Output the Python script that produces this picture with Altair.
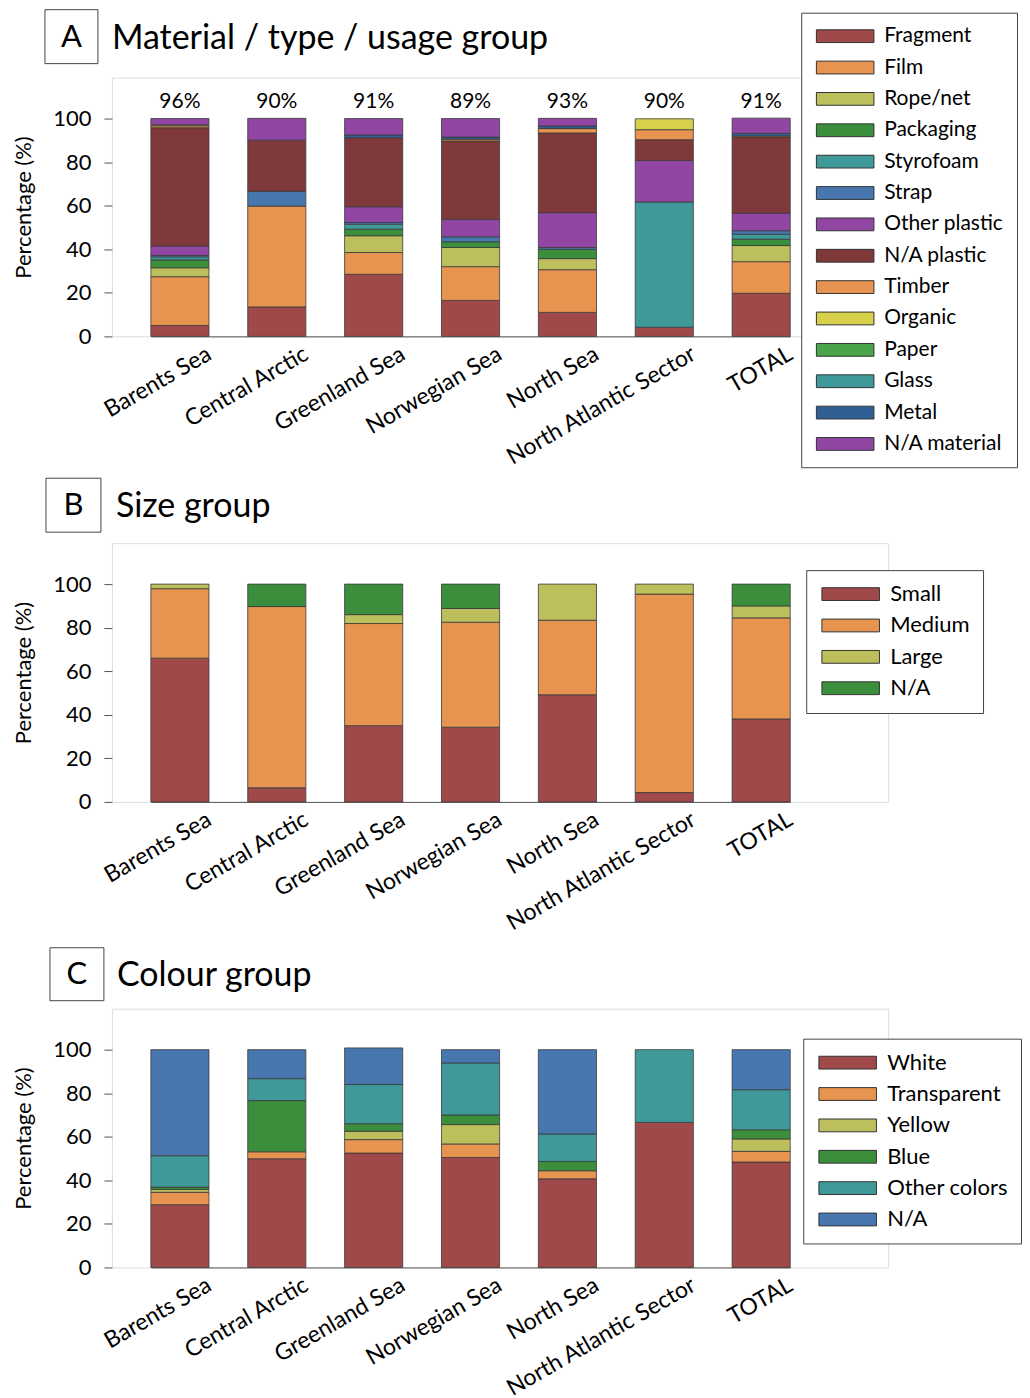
import altair as alt
import pandas as pd

regions = ["Barents Sea", "Central Arctic", "Greenland Sea", "Norwegian Sea",
           "North Sea", "North Atlantic Sector", "TOTAL"]

# ---------- Panel A: material / type / usage group ----------
a_categories = ["Fragment", "Film", "Rope/net", "Packaging", "Styrofoam", "Strap",
                "Other plastic", "N/A plastic", "Timber", "Organic", "Paper",
                "Glass", "Metal", "N/A material"]
a_colors = ["#a0494a", "#e6944f", "#bcbf5c", "#3b8f3c", "#409999", "#4877b0",
            "#9146a4", "#80393a", "#e6944f", "#d6d04a", "#4aa44a", "#409999",
            "#2f5f95", "#9146a4"]
a_fragment = [5.0, 13.5, 28.5, 16.5, 11.0, 4.2, 19.8]
a_film = [22.4, 46.3, 10.0, 15.5, 19.6, 0.0, 14.5]
a_rope_net = [4.1, 0.0, 7.7, 8.8, 5.1, 0.0, 7.4]
a_packaging = [3.6, 0.0, 3.0, 2.6, 4.3, 0.0, 2.9]
a_styrofoam = [1.4, 0.0, 2.3, 0.0, 0.0, 57.5, 2.3]
a_strap = [0.7, 6.8, 0.8, 2.3, 0.8, 0.0, 1.6]
a_other_plastic = [4.3, 0.0, 7.2, 8.0, 16.0, 19.1, 8.1]
a_na_plastic = [54.3, 23.5, 31.7, 36.0, 36.6, 9.5, 34.9]
a_timber = [0.9, 0.0, 0.0, 0.8, 2.0, 4.6, 0.5]
a_organic = [0.4, 0.0, 0.0, 0.0, 0.0, 5.0, 0.0]
a_paper = [0.0, 0.0, 0.0, 0.0, 0.0, 0.0, 0.0]
a_glass = [0.0, 0.0, 0.0, 0.0, 0.0, 0.0, 0.0]
a_metal = [0.0, 0.0, 1.3, 1.0, 1.2, 0.0, 1.2]
a_na_material = [2.9, 10.0, 7.5, 8.5, 3.5, 0.0, 7.0]
a_share = ["96%", "90%", "91%", "89%", "93%", "90%", "91%"]
a_series = [a_fragment, a_film, a_rope_net, a_packaging, a_styrofoam, a_strap,
            a_other_plastic, a_na_plastic, a_timber, a_organic, a_paper,
            a_glass, a_metal, a_na_material]

# ---------- Panel B: size group ----------
b_categories = ["Small", "Medium", "Large", "N/A"]
b_colors = ["#a0494a", "#e6944f", "#bcbf5c", "#3b8f3c"]
b_small = [66.0, 6.5, 35.0, 34.3, 49.2, 4.3, 38.1]
b_medium = [31.9, 83.2, 46.9, 48.2, 34.2, 91.1, 46.4]
b_large = [2.1, 0.0, 4.1, 6.3, 16.6, 4.6, 5.5]
b_na = [0.0, 10.3, 14.0, 11.2, 0.0, 0.0, 10.0]
b_series = [b_small, b_medium, b_large, b_na]

# ---------- Panel C: colour group ----------
c_categories = ["White", "Transparent", "Yellow", "Blue", "Other colors", "N/A"]
c_colors = ["#a0494a", "#e6944f", "#bcbf5c", "#3b8f3c", "#409999", "#4877b0"]
c_white = [28.8, 49.9, 52.5, 50.5, 40.7, 66.6, 48.4]
c_transparent = [5.7, 3.2, 6.2, 6.2, 3.7, 0.0, 4.9]
c_yellow = [1.3, 0.0, 3.8, 8.9, 0.0, 0.0, 5.7]
c_blue = [1.1, 23.5, 3.5, 4.4, 4.3, 0.0, 4.2]
c_other = [14.4, 10.1, 18.0, 23.9, 12.6, 33.4, 18.4]
c_na = [48.7, 13.3, 16.8, 6.1, 38.7, 0.0, 18.4]
c_series = [c_white, c_transparent, c_yellow, c_blue, c_other, c_na]

FONT = "Lato"
W, H = 777, 259
YMAX = 118.8
LEGEND_SYMBOL = "M-3.6,-0.8H3.6V0.8H-3.6Z"


def long_table(categories, series):
    rows = []
    for k, (cat, vals) in enumerate(zip(categories, series)):
        for reg, v in zip(regions, vals):
            rows.append({"region": reg, "category": cat, "value": v, "order": k})
    return pd.DataFrame(rows)


def panel(categories, colors, series, letter, title, box, title_xy, legend_xy,
          share=None, top_pad=None, legend_font=22):
    df = long_table(categories, series)
    xenc = alt.X(
        "region:N", sort=regions, title=None,
        scale=alt.Scale(range=[39, 679], paddingInner=0.4, paddingOuter=0),
        axis=alt.Axis(labelAngle=-30, labelAlign="right", labelBaseline="top",
                      labelOffset=24, labelPadding=6, ticks=False,
                      labelFontSize=23, labelFont=FONT, labelColor="#000",
                      domainColor="#555", labelLimit=400),
    )
    bars = (
        alt.Chart(df)
        .transform_filter("datum.value > 0")
        .mark_bar(stroke="#3a3a3a", strokeWidth=0.8)
        .encode(
            x=xenc,
            y=alt.Y("value:Q", stack="zero",
                    scale=alt.Scale(domain=[0, YMAX], nice=False),
                    axis=alt.Axis(values=[0, 20, 40, 60, 80, 100], grid=False,
                                  tickSize=8, tickColor="#555", domain=False,
                                  labelFontSize=22, labelFont=FONT,
                                  labelColor="#000", labelPadding=13,
                                  title="Percentage (%)", titleFontSize=22,
                                  titleFont=FONT, titleFontWeight="normal",
                                  titleColor="#000", titlePadding=17)),
            color=alt.Color(
                "category:N",
                scale=alt.Scale(domain=categories, range=colors),
                legend=alt.Legend(
                    title=None, orient="none", legendX=legend_xy[0],
                    legendY=legend_xy[1], offset=0, strokeColor="#444",
                    fillColor="white", padding=13, labelFont=FONT,
                    labelFontSize=legend_font, labelColor="#000",
                    symbolType=LEGEND_SYMBOL, symbolSize=256, symbolOffset=20.5,
                    labelOffset=28.5, symbolStrokeColor="#333",
                    symbolStrokeWidth=1, symbolOpacity=1, rowPadding=9.4,
                    labelLimit=400, direction="vertical"),
            ),
            order=alt.Order("order:Q"),
        )
    )
    one = pd.DataFrame({"k": [0]})
    bx0, bx1, by0, by1 = box
    frame = alt.Chart(one).mark_rect(fill="white", stroke="#444", strokeWidth=1).encode(
        x=alt.value(bx0), x2=alt.value(bx1), y=alt.value(by0), y2=alt.value(by1))
    let = alt.Chart(one).mark_text(text=letter, font=FONT, fontSize=31,
                                   align="center", baseline="middle",
                                   color="#000").encode(
        x=alt.value((bx0 + bx1) / 2), y=alt.value((by0 + by1) / 2 + 1))
    ttl = alt.Chart(one).mark_text(text=title, font=FONT, fontSize=34,
                                   align="left", baseline="middle",
                                   color="#000").encode(
        x=alt.value(title_xy[0]), y=alt.value(title_xy[1]))
    layers = [bars]
    if share is not None:
        sdf = pd.DataFrame({"region": regions, "share": share})
        layers.append(
            alt.Chart(sdf).mark_text(font=FONT, fontSize=21, color="#000",
                                     baseline="middle")
            .encode(x=alt.X("region:N", sort=regions), y=alt.Y(datum=107.8),
                    text="share:N"))
    layers += [frame, let, ttl]
    if top_pad is not None:
        layers.append(
            alt.Chart(one).mark_rect(fillOpacity=0, strokeOpacity=0).encode(
                x=alt.value(0), x2=alt.value(10), y=alt.value(top_pad),
                y2=alt.value(top_pad + 5)))
    return alt.layer(*layers).properties(width=W, height=H)


pa = panel(a_categories, a_colors, a_series, "A", "Material / type / usage group",
           (-67, -14, -68, -14), (0, -39), (690, -65), share=a_share,
           legend_font=21)
pb = panel(b_categories, b_colors, b_series, "B", "Size group",
           (-66, -11, -65, -11), (4, -36), (695, 27))
pc = panel(c_categories, c_colors, c_series, "C", "Colour group",
           (-62, -8, -61, -8), (5, -33), (692, 30), top_pad=-65)

chart = (
    alt.vconcat(pa, pb, pc, spacing=7)
    .resolve_scale(color="independent")
    .configure_view(stroke="#555", strokeWidth=1)
    .configure(font=FONT)
    .properties(padding={"left": 4, "top": 0, "right": 0, "bottom": 0})
)

chart.save("out.html", embed_options={"renderer": "svg", "actions": False})
